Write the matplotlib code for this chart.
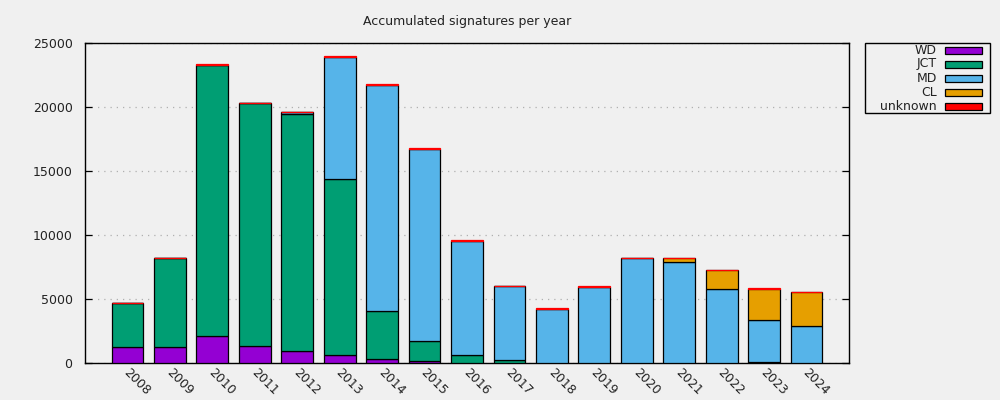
import matplotlib
matplotlib.use("Agg")
import matplotlib.pyplot as plt
from matplotlib.patches import Rectangle
import numpy as np

years = ['2008', '2009', '2010', '2011', '2012', '2013', '2014', '2015', '2016',
         '2017', '2018', '2019', '2020', '2021', '2022', '2023', '2024']
wd = [1226, 1226, 2109, 1328, 911, 625, 286, 130, 30, 10, 0, 0, 0, 0, 0, 50, 0]
jct = [3438, 6951, 21172, 18958, 18542, 13724, 3750, 1563, 569, 198, 0, 0, 0, 0, 0, 0, 0]
md = [0, 0, 0, 0, 130, 9557, 17683, 15026, 8932, 5782, 4219, 5937, 8177, 7864, 5755, 3283, 2864]
cl = [0, 0, 0, 0, 0, 0, 0, 0, 0, 0, 0, 0, 0, 313, 1485, 2448, 2657]
unknown = [60, 60, 60, 60, 60, 60, 60, 60, 60, 60, 60, 60, 60, 60, 60, 60, 60]

series = [('WD', wd, '#9400d3'), ('JCT', jct, '#009e73'), ('MD', md, '#56b4e9'),
          ('CL', cl, '#e69f00'), ('unknown', unknown, '#ff0000')]

bg = '#f0f0f0'
W, H = 1000, 400
fig = plt.figure(figsize=(10, 4), dpi=100, facecolor=bg)
ax = fig.add_axes([0.085, 0.0925, 0.764, 0.8], facecolor=bg)

x = np.arange(len(years))
bottom = np.zeros(len(years))
for name, vals, col in series:
    vals = np.array(vals, dtype=float)
    edge = col if name == 'unknown' else 'black'
    ax.bar(x, vals, 0.75, bottom=bottom, color=col, edgecolor=edge, linewidth=0.9, zorder=3)
    bottom += vals

ax.set_xlim(-1, 17)
ax.set_ylim(0, 25000)
ax.set_yticks(range(0, 25001, 5000))
ax.yaxis.grid(True, linestyle=(0, (1, 4)), color='#b0b0b0', linewidth=0.9, zorder=0)
ax.tick_params(axis='y', direction='in', length=5, width=0.9, right=True, labelsize=9, pad=9, labelcolor='#222222')
ax.set_xticks(x)
ax.set_xticklabels([])
ax.tick_params(axis='x', length=0)
for xi, lab in zip(x, years):
    ax.text(xi + 0.07, -220, lab, rotation=-45, rotation_mode='anchor', ha='left', va='top',
            fontsize=9, color='#222222')
for s in ax.spines.values():
    s.set_linewidth(1.0)

ax.set_title('Accumulated signatures per year', fontsize=9, pad=13, color='#222222')

# legend box drawn by hand, gnuplot style
fig.add_artist(Rectangle((865 / W, 1 - 113 / H), 125 / W, 70 / H, transform=fig.transFigure,
                         facecolor=bg, edgecolor='black', linewidth=1.0))
for i, (name, _, col) in enumerate(series):
    yc = 50 + 14 * i
    fig.text(937 / W, 1 - yc / H, name, ha='right', va='center', fontsize=9, color='#222222')
    fig.add_artist(Rectangle((945 / W, 1 - (yc + 3.5) / H), 37 / W, 7 / H, transform=fig.transFigure,
                             facecolor=col, edgecolor='black', linewidth=0.9))

fig.savefig('out.png', dpi=100, facecolor=bg)
